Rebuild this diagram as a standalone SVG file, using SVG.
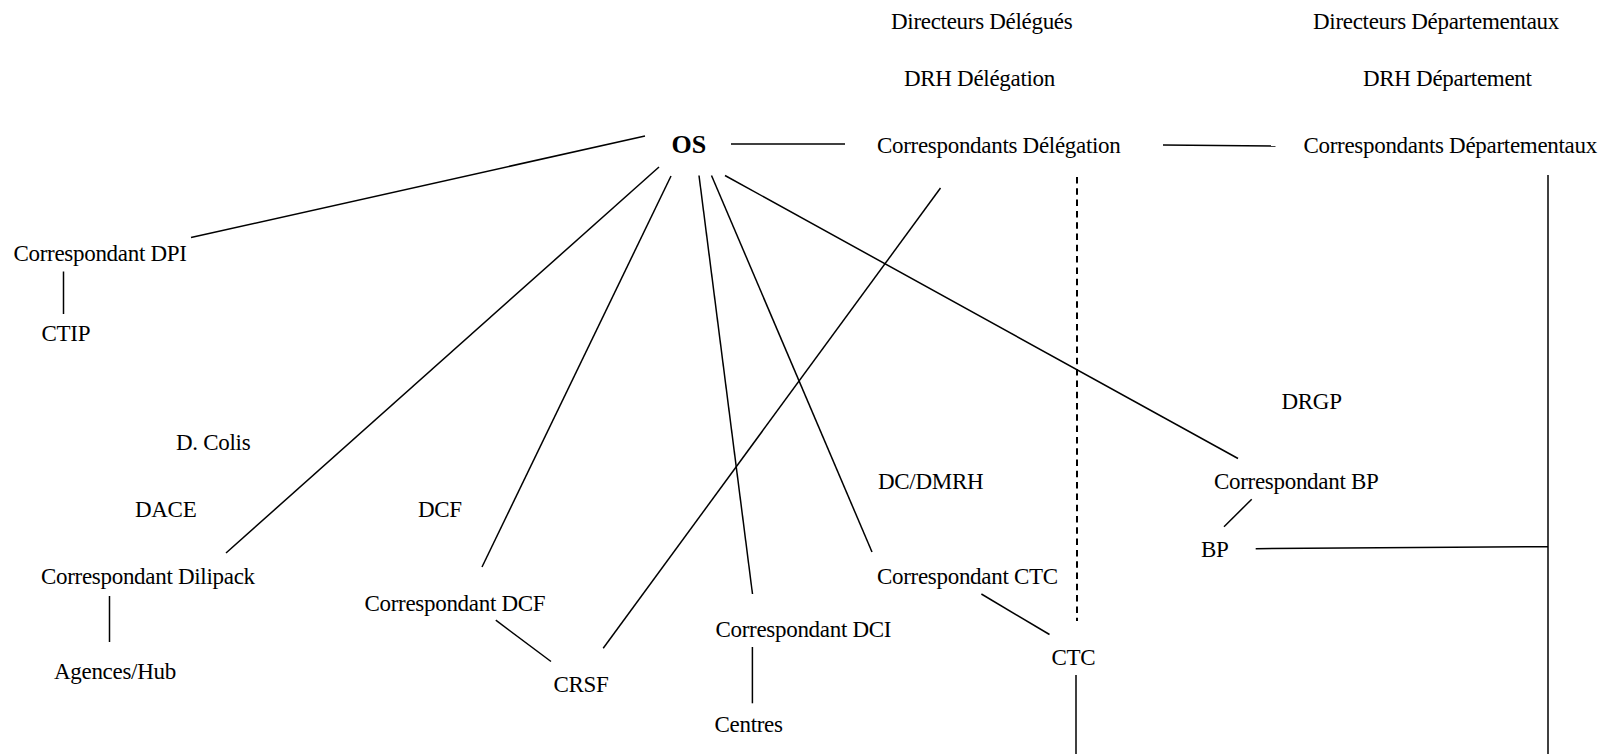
<svg xmlns="http://www.w3.org/2000/svg" width="1603" height="754" viewBox="0 0 1603 754">
<style>
text{font-family:"Liberation Serif","Times New Roman",serif;font-size:23px;letter-spacing:-0.3px;fill:#000}
.b{font-weight:bold;font-size:26px;letter-spacing:0}
.c line{stroke:#000;stroke-width:1.5;fill:none}
.c .d{stroke-width:2;stroke-dasharray:6.5 4.8}
</style>
<rect width="1603" height="754" fill="#fff"/>
<g class="c" id="connectors">
<line x1="731" y1="144" x2="845" y2="144"/>
<line x1="1163" y1="145" x2="1275.5" y2="146"/>
<line x1="645" y1="136" x2="191" y2="237.5"/>
<line x1="63.5" y1="271.5" x2="63.5" y2="314"/>
<line x1="659" y1="167" x2="226" y2="553"/>
<line x1="671" y1="176" x2="482" y2="567"/>
<line x1="699" y1="175.5" x2="752.5" y2="594"/>
<line x1="711.5" y1="175.5" x2="872" y2="552"/>
<line x1="725" y1="175.5" x2="1238" y2="458.5"/>
<line x1="940.5" y1="188" x2="603.2" y2="648.3"/>
<line class="d" x1="1077" y1="177" x2="1077" y2="621"/>
<line x1="981.4" y1="594" x2="1049.5" y2="634.5"/>
<line x1="1076" y1="675" x2="1076" y2="754"/>
<line x1="109.5" y1="596" x2="109.5" y2="642"/>
<line x1="495.8" y1="620.2" x2="551" y2="661.5"/>
<line x1="752.4" y1="647" x2="752.4" y2="703.3"/>
<line x1="1251.7" y1="499.3" x2="1224" y2="526.7"/>
<line x1="1255.7" y1="548.7" x2="1548" y2="546.7"/>
<line x1="1548" y1="175" x2="1548" y2="754"/>
</g>
<g id="n-dir-del"><text x="891" y="28.5">Directeurs Délégués</text></g>
<g id="n-dir-dep"><text x="1313" y="28.5">Directeurs Départementaux</text></g>
<g id="n-drh-del"><text x="904" y="85.5">DRH Délégation</text></g>
<g id="n-drh-dep"><text x="1363" y="85.5">DRH Département</text></g>
<g id="n-os"><text class="b" x="671.5" y="153">OS</text></g>
<g id="n-corr-del"><text x="877" y="153">Correspondants Délégation</text></g>
<g id="n-corr-dep"><text x="1303.5" y="153">Correspondants Départementaux</text></g>
<g id="n-corr-dpi"><text x="13.5" y="260.5">Correspondant DPI</text></g>
<g id="n-ctip"><text x="41.5" y="340.5">CTIP</text></g>
<g id="n-dcolis"><text x="176" y="449.5">D. Colis</text></g>
<g id="n-dace"><text x="135" y="517">DACE</text></g>
<g id="n-dcf"><text x="418" y="517">DCF</text></g>
<g id="n-corr-dilipack"><text x="41" y="584">Correspondant Dilipack</text></g>
<g id="n-agences"><text x="54" y="678.5">Agences/Hub</text></g>
<g id="n-corr-dcf"><text x="364.5" y="611">Correspondant DCF</text></g>
<g id="n-crsf"><text x="553.5" y="692">CRSF</text></g>
<g id="n-corr-dci"><text x="715.5" y="637">Correspondant DCI</text></g>
<g id="n-centres"><text x="714.5" y="732">Centres</text></g>
<g id="n-dcdmrh"><text x="878" y="489">DC/DMRH</text></g>
<g id="n-corr-ctc"><text x="877" y="584">Correspondant CTC</text></g>
<g id="n-ctc"><text x="1051.5" y="664.5">CTC</text></g>
<g id="n-drgp"><text x="1281.5" y="409.3">DRGP</text></g>
<g id="n-corr-bp"><text x="1214" y="488.5">Correspondant BP</text></g>
<g id="n-bp"><text x="1201" y="556.5">BP</text></g>
</svg>
